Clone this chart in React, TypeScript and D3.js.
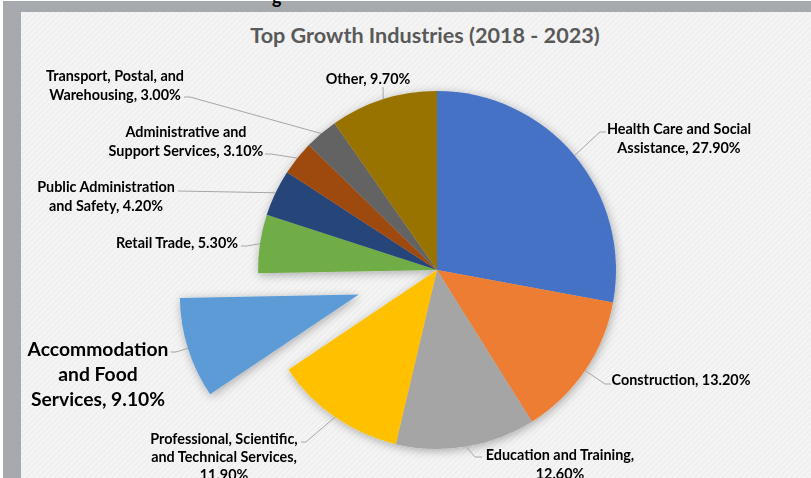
import React from "react";
import * as d3 from "d3";

const W = 811;
const H = 478;

const categories = [
  "Health Care and Social Assistance",
  "Construction",
  "Education and Training",
  "Professional, Scientific, and Technical Services",
  "Accommodation and Food Services",
  "Retail Trade",
  "Public Administration and Safety",
  "Administrative and Support Services",
  "Transport, Postal, and Warehousing",
  "Other",
];
const values = [27.9, 13.2, 12.6, 11.9, 9.1, 5.3, 4.2, 3.1, 3.0, 9.7];
const colors = [
  "#4472c4", "#ed7d31", "#a5a5a5", "#ffc000", "#5b9bd5",
  "#70ad47", "#264478", "#9e480e", "#636363", "#997300",
];
const explodedIndex = 4;

const labelLines = [
  ["Health Care and Social", "Assistance, 27.90%"],
  ["Construction, 13.20%"],
  ["Education and Training,", "12.60%"],
  ["Professional, Scientific,", "and Technical Services,", "11.90%"],
  ["Accommodation", "and Food", "Services, 9.10%"],
  ["Retail Trade, 5.30%"],
  ["Public Administration", "and Safety, 4.20%"],
  ["Administrative and", "Support Services, 3.10%"],
  ["Transport, Postal, and", "Warehousing, 3.00%"],
  ["Other, 9.70%"],
];
const labelPos: { x: number; y: number; size: number; lh: number; leader: [number, number][] }[] = [
  { x: 679, y: 128, size: 14.4, lh: 19, leader: [[600, 132], [606, 132]] },
  { x: 681, y: 379, size: 14.4, lh: 19, leader: [[605, 384], [611, 384]] },
  { x: 560, y: 454, size: 14.4, lh: 19, leader: [[475, 457], [482, 457]] },
  { x: 224, y: 438, size: 14.4, lh: 18, leader: [[306, 442], [301, 442]] },
  { x: 98, y: 348, size: 19.3, lh: 25, leader: [[176, 352], [171, 352]] },
  { x: 177, y: 242, size: 14.4, lh: 19, leader: [[247, 246], [241, 246]] },
  { x: 106, y: 186, size: 14.4, lh: 19, leader: [[178, 191]] },
  { x: 186, y: 131, size: 14.4, lh: 19, leader: [[271, 154], [265, 154]] },
  { x: 115, y: 75, size: 14.4, lh: 19, leader: [[190, 97], [184, 97]] },
  { x: 368, y: 78, size: 14.4, lh: 19, leader: [[383, 87]] },
];

const title = "Top Growth Industries (2018 - 2023)";

export default function App() {
  const cx = 437;
  const cy = 270;
  const r = 179;
  const explode = 82;

  const pie = d3.pie<number>().sort(null).value((d) => d)(values);
  const arc = d3.arc<d3.PieArcDatum<number>>().innerRadius(0).outerRadius(r);

  const slices = pie.map((p, i) => {
    const mid = (p.startAngle + p.endAngle) / 2;
    const off = i === explodedIndex ? explode : 0;
    const dx = off * Math.sin(mid);
    const dy = -off * Math.cos(mid);
    const ax = cx + dx + r * Math.sin(mid);
    const ay = cy + dy - r * Math.cos(mid);
    return { p, i, dx, dy, ax, ay };
  });

  const font = "Lato, 'Open Sans', sans-serif";

  return (
    <div style={{ position: "absolute", left: 0, top: 0 }}>
      <svg width={W} height={H} style={{ display: "block" }}>
        <defs>
          <pattern id="hatch" width="4" height="4" patternUnits="userSpaceOnUse" patternTransform="rotate(45)">
            <rect width="4" height="4" fill="#f4f4f4" />
            <line x1="0" y1="0" x2="0" y2="4" stroke="#e7e7e7" strokeWidth="1.2" />
          </pattern>
          <filter id="shadow" x="-20%" y="-20%" width="140%" height="140%">
            <feDropShadow dx="1" dy="2" stdDeviation="5" floodColor="#000" floodOpacity="0.3" />
          </filter>
        </defs>
        <rect x={0} y={0} width={W} height={H} fill="#ffffff" />
        <rect x={3} y={1} width={W - 3} height={H - 1} fill="#a6a9ad" />
        <rect x={21} y={12} width={W - 21} height={H - 12} fill="url(#hatch)" />
        <text x={272} y={4} fontFamily={font} fontSize={18} fontWeight="bold" fill="#000">g</text>
        <text
          x={425}
          y={35}
          textAnchor="middle"
          dominantBaseline="central"
          fontFamily={font}
          fontSize={21.6}
          fontWeight="bold"
          fill="#595959"
        >
          {title}
        </text>

        <g filter="url(#shadow)">
          {slices.map((s) => (
            <path
              key={categories[s.i]}
              d={arc(s.p) || ""}
              transform={`translate(${cx + s.dx},${cy + s.dy})`}
              fill={colors[s.i]}
            />
          ))}
        </g>

        {slices.map((s) => {
          const lp = labelPos[s.i];
          const pts: [number, number][] = [[s.ax, s.ay], ...lp.leader];
          return (
            <polyline
              key={"l" + s.i}
              points={pts.map((q) => q.join(",")).join(" ")}
              fill="none"
              stroke="#a6a6a6"
              strokeWidth={1}
            />
          );
        })}

        {slices.map((s) => {
          const lp = labelPos[s.i];
          return (
            <text
              key={"t" + s.i}
              textAnchor="middle"
              fontFamily={font}
              fontSize={lp.size}
              fontWeight="bold"
              fill="#000"
            >
              {labelLines[s.i].map((ln, k) => (
                <tspan key={k} x={lp.x} y={lp.y + k * lp.lh} dominantBaseline="central">
                  {ln}
                </tspan>
              ))}
            </text>
          );
        })}
      </svg>
    </div>
  );
}
